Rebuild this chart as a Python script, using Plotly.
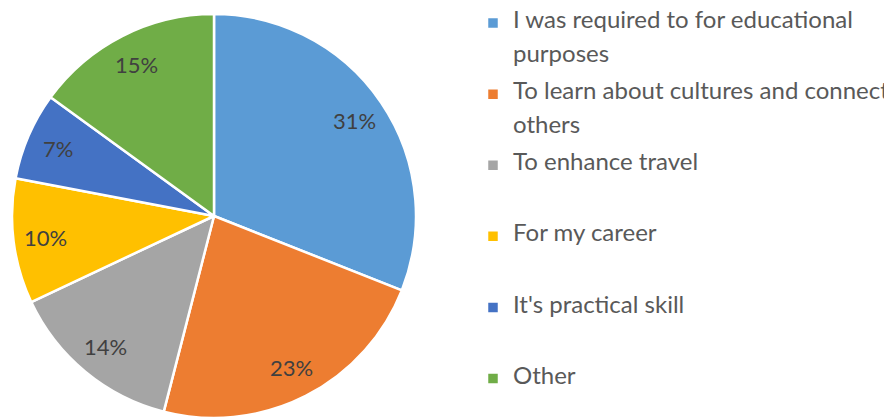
import math
import plotly.graph_objects as go

# reasons for learning a language, share of answers (%)
reason_labels = [
    ('I was required to for educational', 'purposes'),
    ('To learn about cultures and connect', 'others'),
    ('To enhance travel', ''),
    ('For my career', ''),
    ("It's practical skill", ''),
    ('Other', ''),
]
shares = [31, 23, 14, 10, 7, 15]
slice_colors = ['#5B9BD5', '#ED7D31', '#A5A5A5', '#FFC000', '#4472C4', '#70AD47']

W, H = 892, 418
# the page body adds an 8px offset, so work in figure coordinates
cx, cy, rad = 206, 208, 202
top, bottom = cy - rad, H - (cy + rad)
label_r = 0.84


def legend_name(lines):
    # small base font with blank rows between, so entries sit ~71px apart
    first, second = lines
    big = '<span style="font-size:24px">{}</span>'
    return '<br>'.join([big.format(first), ' ', big.format(second) if second else ' ', ' '])


fig = go.Figure()
fig.add_trace(go.Pie(
    labels=[legend_name(l) for l in reason_labels],
    values=shares,
    sort=False,
    direction='clockwise',
    rotation=0,
    marker=dict(colors=slice_colors, line=dict(color='white', width=2.5)),
    textinfo='none',
    domain=dict(x=[(cx - rad) / W, (cx + rad) / W], y=[0, 1]),
    hoverinfo='percent',
))

# percentage labels placed along each slice's middle angle, as Excel does
total = sum(shares)
plot_h = H - top - bottom
cum = 0
for share in shares:
    frac = (cum + share / 2) / total
    cum += share
    ang = 2 * math.pi * frac
    px = cx + label_r * rad * math.sin(ang)
    py = cy - label_r * rad * math.cos(ang)
    fig.add_annotation(
        x=px / W, y=(H - bottom - py) / plot_h,
        xref='paper', yref='paper',
        text=f'{round(100 * share / total)}%',
        showarrow=False,
        xanchor='center', yanchor='middle',
        font=dict(color='#404040', size=22, family='Lato'),
    )

fig.update_layout(
    width=W,
    height=H,
    margin=dict(l=0, r=0, t=top, b=bottom, autoexpand=False),
    paper_bgcolor='white',
    legend=dict(
        xref='container', yref='container',
        x=465 / W, xanchor='left',
        y=1.0, yanchor='top',
        valign='top',
        maxheight=700,
        font=dict(family='Lato', size=13.1, color='#595959'),
        bgcolor='rgba(0,0,0,0)',
    ),
)

fig.write_html('out.html')
